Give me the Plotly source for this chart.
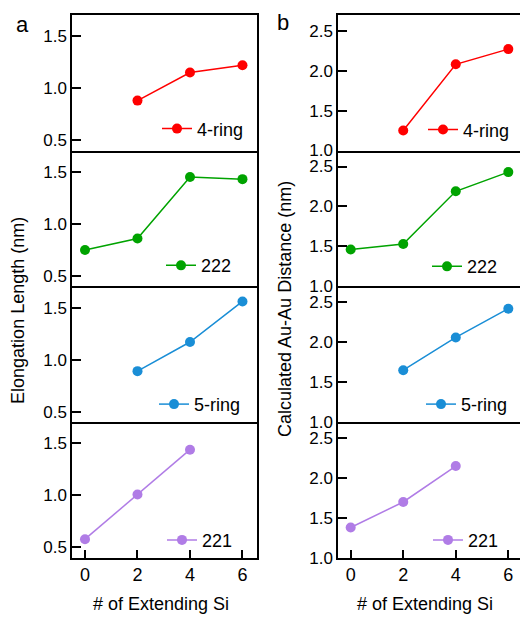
import plotly.graph_objects as go

W, H = 520, 623

x_si = [0, 2, 4, 6]
series_names = ["4-ring", "222", "5-ring", "221"]
colors = ["#FF0000", "#00A300", "#1A8ED6", "#B07CE6"]

elong_4ring = [None, 0.88, 1.15, 1.22]
elong_222 = [0.75, 0.86, 1.45, 1.43]
elong_5ring = [None, 0.89, 1.17, 1.56]
elong_221 = [0.58, 1.01, 1.44, None]

auau_4ring = [None, 1.25, 2.08, 2.27]
auau_222 = [1.46, 1.53, 2.19, 2.43]
auau_5ring = [None, 1.65, 2.06, 2.42]
auau_221 = [1.38, 1.70, 2.15, None]

left_vals = [elong_4ring, elong_222, elong_5ring, elong_221]
right_vals = [auau_4ring, auau_222, auau_5ring, auau_221]

left_ticks = [0.5, 1.0, 1.5]
right_ticks = [1.0, 1.5, 2.0, 2.5]
x_ticks = [0, 2, 4, 6]

FONT = "Liberation Sans, Arial, sans-serif"

# pixel layout
row_bounds = [15, 153, 291, 429, 567]
col_px = [(72, 257), (338, 520)]
x_ranges = [[-0.495, 6.553], [-0.483, 6.445]]
y_ranges = [[0.40, 1.705], [1.0, 2.70]]

# legend line-start x and item center y for each panel
leg_pos = {
    (0, 0): (162, 131), (1, 0): (166, 270), (2, 0): (159, 411), (3, 0): (167, 549),
    (0, 1): (428, 132), (1, 1): (432, 271), (2, 1): (426, 411), (3, 1): (433, 549),
}

def px_x(p):
    return p / W

def px_y(p):
    return 1 - p / H

fig = go.Figure()
layout = dict(
    width=W, height=H,
    margin=dict(l=0, r=0, t=0, b=0),
    paper_bgcolor="white", plot_bgcolor="white",
    font=dict(family=FONT, size=18, color="black"),
    showlegend=True,
)

for r in range(4):
    for c in range(2):
        n = r * 2 + c + 1
        sfx = "" if n == 1 else str(n)
        vals = (left_vals if c == 0 else right_vals)[r]
        leg = "legend" if n == 1 else f"legend{n}"
        fig.add_trace(go.Scatter(
            x=x_si, y=vals, mode="lines+markers", name=series_names[r],
            line=dict(color=colors[r], width=1.5),
            marker=dict(color=colors[r], size=10),
            xaxis="x" + sfx, yaxis="y" + sfx, legend=leg,
            connectgaps=False,
        ))
        bottom = r == 3
        layout["xaxis" + sfx] = dict(
            domain=[px_x(col_px[c][0]), px_x(col_px[c][1])],
            range=x_ranges[c], anchor="y" + sfx,
            showline=True, linecolor="black", linewidth=1.5, mirror=(r == 0),
            showgrid=False, zeroline=False,
            ticks="inside" if bottom else "", ticklen=8, tickwidth=1.5, tickcolor="black",
            tickvals=x_ticks, showticklabels=bottom,
            tickfont=dict(size=18, family=FONT, color="black"),
        )
        tv = left_ticks if c == 0 else right_ticks
        layout["yaxis" + sfx] = dict(
            domain=[px_y(row_bounds[r + 1]), px_y(row_bounds[r])],
            range=y_ranges[c], anchor="x" + sfx,
            showline=True, linecolor="black", linewidth=1.5, mirror=(c == 0),
            showgrid=False, zeroline=False,
            ticks="inside", ticklen=9, tickwidth=1.5, tickcolor="black",
            tickvals=tv, ticktext=[f"{v:.1f}" for v in tv],
            tickfont=dict(size=17, family=FONT, color="black"),
        )
        lx, ly = leg_pos[(r, c)]
        layout[leg] = dict(
            x=px_x(lx - 5), y=px_y(ly), xanchor="left", yanchor="middle",
            xref="paper", yref="paper",
            bgcolor="rgba(0,0,0,0)", borderwidth=0,
            font=dict(size=18, family=FONT, color="black"),
            itemwidth=30,
        )

annotations = [
    dict(text="a", x=px_x(22), y=px_y(25), font=dict(size=22)),
    dict(text="b", x=px_x(283), y=px_y(23), font=dict(size=22)),
    dict(text="Elongation Length (nm)", x=px_x(18), y=px_y(316), textangle=-90),
    dict(text="Calculated Au-Au Distance (nm)", x=px_x(285), y=px_y(314), textangle=-90),
    dict(text="# of Extending Si", x=px_x(161), y=px_y(614)),
    dict(text="# of Extending Si", x=px_x(425), y=px_y(614)),
]
for a in annotations:
    a.update(xref="paper", yref="paper", showarrow=False, xanchor="center", yanchor="middle")
    a.setdefault("font", dict(size=18))
    a["font"].update(family=FONT, color="black")
layout["annotations"] = annotations

fig.update_layout(**layout)
fig.write_html("out.html")
